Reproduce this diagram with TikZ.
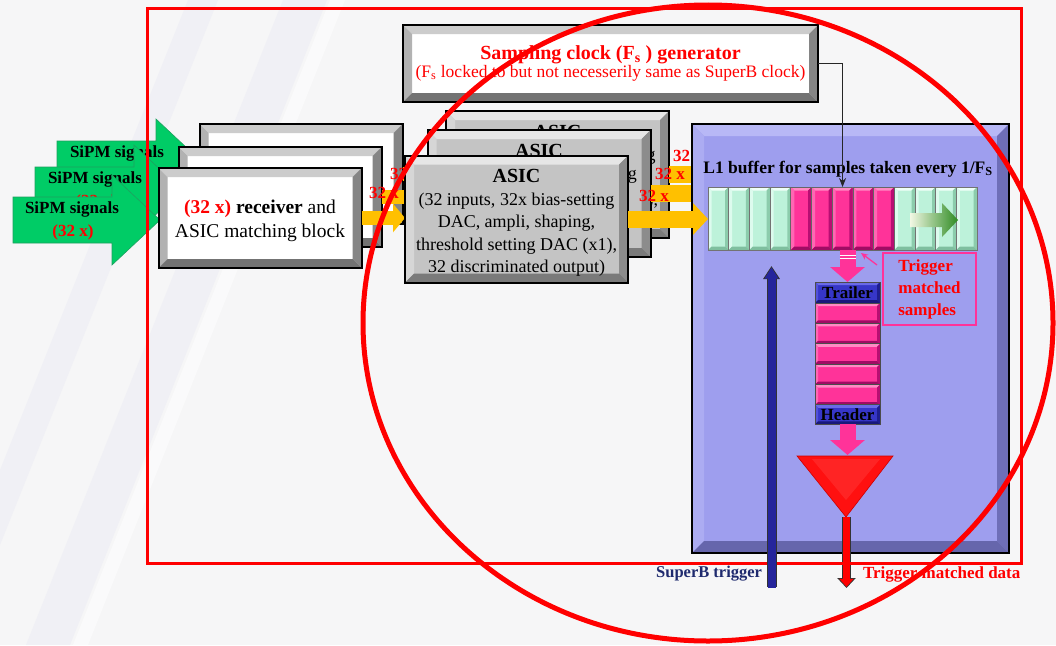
\documentclass[tikz,border=0pt]{standalone}
\usepackage{fontspec}
\setmainfont{Liberation Serif}
\usetikzlibrary{arrows.meta,shapes.geometric,calc}

\definecolor{bgc}{HTML}{F6F6F7}
\definecolor{band}{HTML}{ECECF4}
\definecolor{sipm}{HTML}{00CC66}
\definecolor{sipmedge}{HTML}{1FA060}
\definecolor{orangeb}{HTML}{FFC000}
\definecolor{asicface}{HTML}{C4C4C4}
\definecolor{asictop}{HTML}{E6E6E6}
\definecolor{asicleft}{HTML}{D6D6D6}
\definecolor{asicright}{HTML}{8C8C8C}
\definecolor{asicbot}{HTML}{7A7A7A}
\definecolor{bufc}{HTML}{9E9EEE}
\definecolor{buftop}{HTML}{B8B8F6}
\definecolor{bufleft}{HTML}{ACACF2}
\definecolor{bufright}{HTML}{6E6EB8}
\definecolor{bufbot}{HTML}{6666AC}
\definecolor{mintc}{HTML}{BDF2DA}
\definecolor{minttop}{HTML}{F0FFF8}
\definecolor{mintleft}{HTML}{DDFBEE}
\definecolor{mintright}{HTML}{8CCCAC}
\definecolor{mintbot}{HTML}{7FBF9F}
\definecolor{pinkc}{HTML}{FF3399}
\definecolor{pinktop}{HTML}{FF8AC4}
\definecolor{pinkleft}{HTML}{FF66B3}
\definecolor{pinkright}{HTML}{B80E72}
\definecolor{pinkbot}{HTML}{A00C64}
\definecolor{blk}{HTML}{3636C8}
\definecolor{blktop}{HTML}{6A6AE6}
\definecolor{blkleft}{HTML}{5252DA}
\definecolor{blkright}{HTML}{1E1E90}
\definecolor{blkbot}{HTML}{18187A}
\definecolor{navy}{HTML}{1F2A6E}
\definecolor{trigbar}{HTML}{25259C}
\definecolor{funred}{HTML}{FF1010}
\definecolor{gstart}{HTML}{F2F8E4}
\definecolor{gend}{HTML}{2E8B22}

\newcommand\bevelfill[5]{%
 \fill[#1] (path picture bounding box.north west) -- (path picture bounding box.north east)
   -- ([xshift=-#5,yshift=-#5]path picture bounding box.north east)
   -- ([xshift=#5,yshift=-#5]path picture bounding box.north west) -- cycle;
 \fill[#2] (path picture bounding box.north west) -- ([xshift=#5,yshift=-#5]path picture bounding box.north west)
   -- ([xshift=#5,yshift=#5]path picture bounding box.south west) -- (path picture bounding box.south west) -- cycle;
 \fill[#3] (path picture bounding box.north east) -- ([xshift=-#5,yshift=-#5]path picture bounding box.north east)
   -- ([xshift=-#5,yshift=#5]path picture bounding box.south east) -- (path picture bounding box.south east) -- cycle;
 \fill[#4] (path picture bounding box.south west) -- ([xshift=#5,yshift=#5]path picture bounding box.south west)
   -- ([xshift=-#5,yshift=#5]path picture bounding box.south east) -- (path picture bounding box.south east) -- cycle;
}

\newcommand\sipmshape[2]{%
 \filldraw[fill=sipm, draw=sipmedge, line width=0.6pt] (#1,#2) -- ++(99,0) -- ++(0,-22) -- ++(48,45) -- ++(-48,45) -- ++(0,-22) -- ++(-99,0) -- cycle;
}
\newcommand\rectext{\textcolor{red}{\textbf{(32 x)}} \textbf{receiver} and\\ASIC matching block}
\newcommand\asictext{{\fontsize{20}{22.5}\selectfont\textbf{ASIC}}\\(32 inputs, 32x bias-setting\\DAC, ampli, shaping,\\threshold setting DAC (x1),\\32 discriminated output)}

\tikzset{
 whitebox/.style={draw=black, line width=2pt, fill=white, align=center,
   path picture={\bevelfill{black!20}{black!30}{black!48}{black!55}{9pt}}},
 recbox/.style={whitebox, minimum width=203pt, minimum height=100pt},
 rectxt/.style={align=center, font=\fontsize{19.5}{24}\selectfont},
 asicbox/.style={draw=black, line width=2pt, fill=asicface, minimum width=223pt, minimum height=127pt,
   path picture={\bevelfill{asictop}{asicleft}{asicright}{asicbot}{9pt}}},
 asictxt/.style={align=center, font=\fontsize{18}{22.5}\selectfont},
 bufbox/.style={draw=black, line width=2pt, fill=bufc,
   path picture={\bevelfill{buftop}{bufleft}{bufright}{bufbot}{12pt}}},
 mintcell/.style={draw=black!55, line width=0.8pt, fill=mintc, minimum width=20.7pt, minimum height=63pt,
   path picture={\bevelfill{minttop}{mintleft}{mintright}{mintbot}{3.5pt}}},
 pinkcell/.style={draw=black!60, line width=0.8pt, fill=pinkc, minimum width=20.7pt, minimum height=63pt,
   path picture={\bevelfill{pinktop}{pinkleft}{pinkright}{pinkbot}{3.5pt}}},
 stackcell/.style={draw=black!70, line width=0.8pt, fill=pinkc, minimum width=65pt, minimum height=20.4pt,
   path picture={\bevelfill{pinktop}{pinkleft}{pinkright}{pinkbot}{3pt}}},
 bluecell/.style={draw=black!70, line width=0.8pt, fill=blk, minimum width=65pt, minimum height=20pt,
   font=\fontsize{17}{18}\selectfont\bfseries,
   path picture={\bevelfill{blktop}{blkleft}{blkright}{blkbot}{3pt}}},
 sipmtxt/.style={font=\fontsize{17}{20}\selectfont\bfseries},
 lbl/.style={font=\fontsize{17}{20}\selectfont\bfseries, text=red},
 oarrow/.style={draw=orangeb, line width=14pt, -{Triangle[length=12pt,width=28pt]}},
 oarrowb/.style={draw=orangeb, line width=17pt, -{Triangle[length=15pt,width=31pt]}},
 pinkarrow/.style={draw=pinkc, line width=16pt, -{Triangle[length=15pt,width=34pt]}},
}

\begin{document}
\begin{tikzpicture}[x=1pt,y=-1pt, every node/.style={inner sep=0pt, outer sep=0pt}]
\useasboundingbox (0,0) rectangle (1056,645);
\fill[bgc] (0,0) rectangle (1056,645);
% faint diagonal bands
\fill[band, opacity=0.6] (188,0) -- (218,0) -- (0,545) -- (0,470) -- cycle;
\fill[band, opacity=0.6] (283,0) -- (327,0) -- (70,645) -- (26,645) -- cycle;
\fill[white, opacity=0.5] (330,0) -- (345,0) -- (88,645) -- (73,645) -- cycle;

% SiPM arrows
\sipmshape{57}{141}
\node[sipmtxt] (sipmB) at (117,153) {SiPM signals};
\node[lbl] (sipmBn) at (117,176) {(32 x)};
\sipmshape{35}{167}
\node[sipmtxt] (sipmM) at (95,179) {SiPM signals};
\node[lbl] (sipmMn) at (96,202) {(32 x)};
\sipmshape{13}{197}
\node[sipmtxt] (sipmF) at (72,209) {SiPM signals};
\node[lbl] (sipmFn) at (73,232) {(32 x)};

% receivers and their arrows
\node[recbox] (recB) at (301,174) {};
\node[recbox] (recM) at (280,197) {};
\draw[oarrow] (recB.east) -- (recB.east -| 446,0);
\node[lbl] (lrB) at (405,174) {32 x};
\node[recbox] (recF) at (260,218) {};
\node[rectxt] (recFt) at (260,221) {\rectext};
\draw[oarrow] (recM.east) -- (recM.east -| 427,0);

% ASIC stack
\coordinate (bufin) at (708,0);
\node[asicbox] (asicB) at (557.5,174.5) {};
\node[asictxt] (asicBt) at (557.5,178.5) {\asictext};
\draw[oarrowb] (asicB.east) -- (bufin |- asicB.east);
\node[lbl] (laB) at (688,156) {32 x};
\node[asicbox] (asicM) at (539,193.5) {};
\node[asictxt] (asicMt) at (539,197.5) {\asictext};
\draw[oarrowb] (asicM.east) -- (bufin |- asicM.east);
\node[lbl] (laM) at (670,174) {32 x};
\draw[oarrow] (recF.east) -- (recF.east -| 405,0);
\node[asicbox] (asicF) at (516.5,219) {};
\node[asictxt] (asicFt) at (516.5,223) {\asictext};
\node[lbl] (lrF) at (384,193) {32 x};

% sampling clock generator
\node[whitebox, minimum width=415pt, minimum height=77pt] (clock) at (610.5,63.5)
 {\textcolor{red}{\fontsize{20}{22}\selectfont\textbf{Sampling clock (F\textsubscript{s} ) generator}}\\
  \textcolor{red}{\fontsize{17.5}{21}\selectfont (F\textsubscript{s} locked to but not necesserily same as SuperB clock)}};

% L1 buffer
\node[bufbox, minimum width=317pt, minimum height=429pt] (buf) at (850.5,338.5) {};
\node[font=\fontsize{17.5}{20}\selectfont\bfseries] (buftitle) at (848,169) {L1 buffer for samples taken every 1/F\textsubscript{S}};
\foreach \i in {0,1,2,3,9,10,11,12} \node[mintcell] (c\i) at ({718.35+20.7*\i},218.5) {};
\foreach \i in {4,5,6,7,8} \node[pinkcell] (c\i) at ({718.35+20.7*\i},218.5) {};
\shade[left color=gstart, right color=gend] (910,213) -- (942,213) -- (942,203) -- (958,220) -- (942,237) -- (942,227) -- (910,227) -- cycle;
\draw[oarrowb] (asicF.east) -- (bufin |- asicF.east);
\node[lbl] (laF) at (654,196) {32 x};
\draw[line width=0.8pt, black!85, -{Stealth[length=9pt,width=7pt]}] (clock.east) -| (c6.north);

% trailer / samples / header stack
\node[bluecell, minimum height=21pt] (trailer) at (847.5,292.5) {Trailer};
\foreach \i in {1,...,5} \node[stackcell] (s\i) at (847.5,{303+10.2+20.4*(\i-1)}) {};
\node[bluecell, minimum height=19.5pt] (header) at (847.5,414.5) {Header};
\draw[pinkarrow] (trailer.north |- c6.south) -- (trailer.north);
\draw[white, line width=0.9pt] (839.5,255.5) -- (855.5,255.5) (839.5,258.5) -- (855.5,258.5);

% trigger matched samples box
\node[draw=pinkc, line width=1.5pt, minimum width=93pt, minimum height=72pt, align=left,
      font=\fontsize{17}{22}\selectfont\bfseries, text=red] (tms) at (929.5,289)
      {Trigger\\matched\\samples};
\coordinate (ptip) at (861,253);
\draw[pinkc, line width=1.3pt, -{Stealth[length=7pt,width=6pt]}] ([shift={(-6pt,-12pt)}]tms.north west) -- (ptip);

% funnel and output
\coordinate (funtop) at (847.5,455);
\draw[pinkarrow] (header.south) -- (funtop);
\filldraw[fill=funred, draw=red!80!black, line width=0.6pt] (797,456) -- (893,456) -- (846,517) -- cycle;
\fill[red!70!white, opacity=0.35] (812,459) -- (880,459) -- (846,500) -- cycle;
\coordinate (funtip) at (846.5,517);
\coordinate (outend) at (846.5,588);
\draw[line width=8.5pt, black!80, -{Triangle[length=10pt,width=18pt]}] (funtip) -- (outend);
\draw[line width=6.5pt, red, -{Triangle[length=8pt,width=14pt]}] (funtip) -- ([yshift=1.2pt]outend);

% red frame
\node[draw=red, line width=3pt, minimum width=874pt, minimum height=555pt] (frame) at (584,285.5) {};

% SuperB trigger bar
\coordinate (trigbot) at (771.5,587);
\coordinate (trigtop) at (771.5,266);
\draw[line width=10pt, black!80, -{Triangle[length=13pt,width=16pt]}] (trigbot) -- (trigtop);
\draw[line width=8pt, trigbar, -{Triangle[length=11pt,width=13pt]}] ([yshift=-1pt]trigbot) -- ([yshift=-1.5pt]trigtop);

\node[anchor=east, font=\fontsize{16.5}{20}\selectfont\bfseries, text=navy] (sbt) at (762,574) {SuperB trigger};
\node[anchor=west, font=\fontsize{17}{20}\selectfont\bfseries, text=red] (tmd) at (863,574) {Trigger matched data};

% big red ellipse
\node[draw=red, line width=5pt, ellipse, minimum width=690pt, minimum height=636pt] (ring) at (708,323) {};
\end{tikzpicture}
\end{document}
